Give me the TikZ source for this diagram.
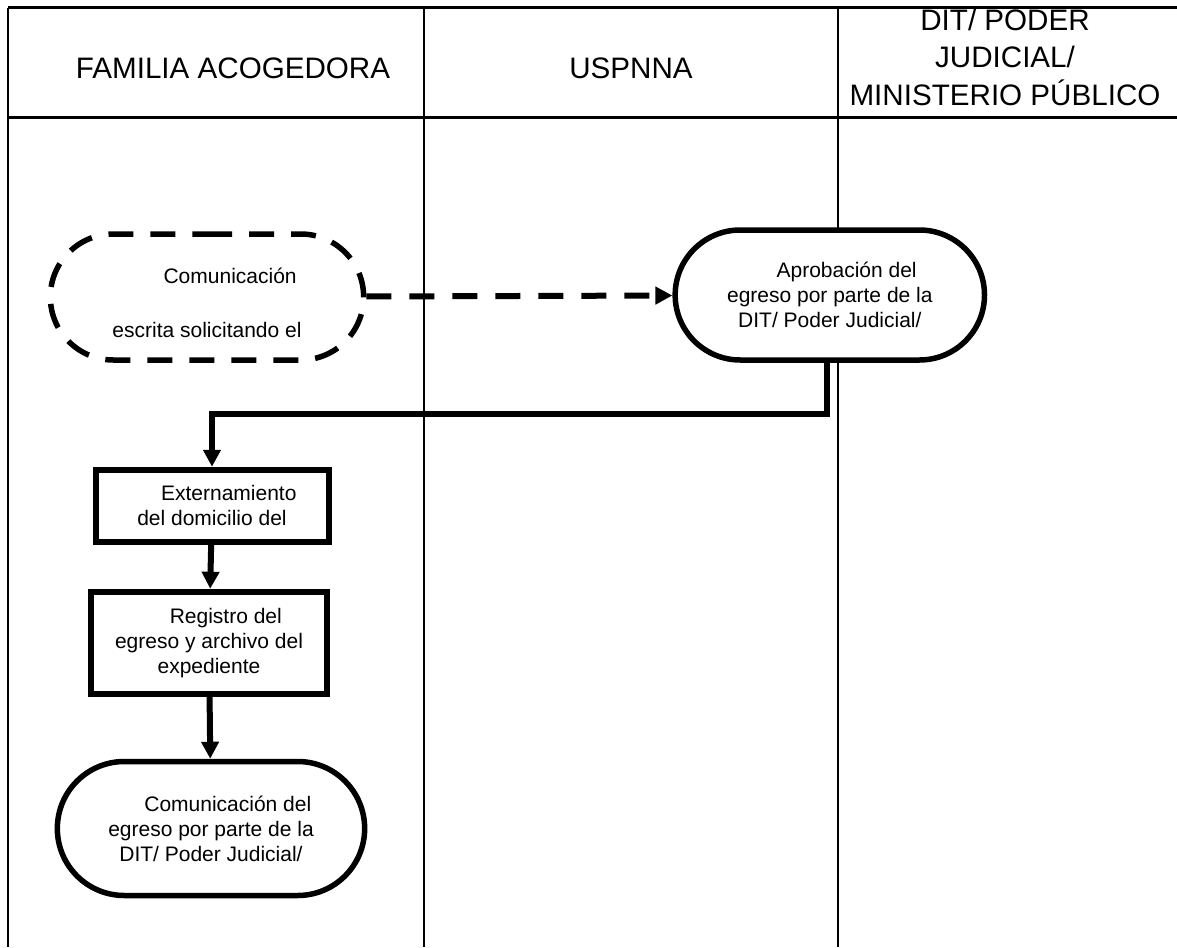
\documentclass[tikz,border=0pt]{standalone}
\usepackage{fontspec}
\setmainfont{Liberation Sans}
\usetikzlibrary{arrows.meta, positioning, shapes.misc}
\tikzset{
  lane/.style = {
    align=center,
    font=\fontsize{29.6}{37.5}\selectfont,
  },
  laneLine/.style = {
    line width=1.6pt,
  },
  laneEdge/.style = {
    line width=3pt,
  },
  terminal/.style = {
    draw,
    fill=white,
    rounded rectangle,
    line width=5.5pt,
    align=center,
    font=\fontsize{21}{25}\selectfont,
  },
  request/.style = {
    terminal,
    dash pattern=on 25pt off 17pt,
  },
  process/.style = {
    draw,
    fill=white,
    rectangle,
    line width=6pt,
    align=center,
    font=\fontsize{21}{25}\selectfont,
  },
  flow/.style = {
    -{Triangle[length=17pt, width=17pt]},
    line width=6pt,
  },
  dashedFlow/.style = {
    flow,
    dash pattern=on 25pt off 18pt,
  },
}

\begin{document}
\begin{tikzpicture}[x=1pt, y=-1pt]
\useasboundingbox (0,0) rectangle (1177,947);

% swimlanes
\draw[laneEdge] (8,8) -- (1177,8);
\draw[laneEdge] (8,118) -- (1177,118);
\draw[laneLine] (8,8) -- (8,947);
\draw[laneLine] (424,8) -- (424,947);
\draw[laneLine] (838,8) -- (838,947);

\node[lane] (Familia) at (233,68) {FAMILIA ACOGEDORA};
\node[lane] (Uspnna) at (631,68) {USPNNA};
\node[lane] (Dit) at (1005,57) {DIT/ PODER\\JUDICIAL/\\MINISTERIO PÚBLICO};

% flow
\node[request, minimum width=320pt, minimum height=126pt]
  (Solicitud) at (207,297)
  {\rule{0pt}{28pt}\hspace*{2.2em}Comunicación\\[29pt]escrita solicitando el};

\node[terminal, minimum width=316pt, minimum height=130pt,
  right=306pt of Solicitud, yshift=2pt]
  (Aprobacion)
  {\hspace*{1.6em}Aprobación del\\egreso por parte de la\\DIT/ Poder Judicial/};
\draw[dashedFlow] (Solicitud) -- (Aprobacion);

\node[process, minimum width=233pt, minimum height=72pt,
  below=104pt of Solicitud, xshift=5pt]
  (Externamiento)
  {\hspace*{1.6em}Externamiento\\del domicilio del};
\draw[flow] ([xshift=-3pt]Aprobacion.south) -- ++(0,51) -| (Externamiento.north);

\node[process, minimum width=236pt, minimum height=102pt,
  below=44pt of Externamiento, xshift=-3pt]
  (Registro)
  {\hspace*{1.6em}Registro del\\egreso y archivo del\\expediente};
\draw[flow] (Externamiento) -- (Registro);

\node[terminal, minimum width=314pt, minimum height=134pt,
  below=62pt of Registro, xshift=2pt]
  (Egreso)
  {\hspace*{1.6em}Comunicación del\\egreso por parte de la\\DIT/ Poder Judicial/};
\draw[flow] (Registro) -- (Egreso);

\end{tikzpicture}
\end{document}
